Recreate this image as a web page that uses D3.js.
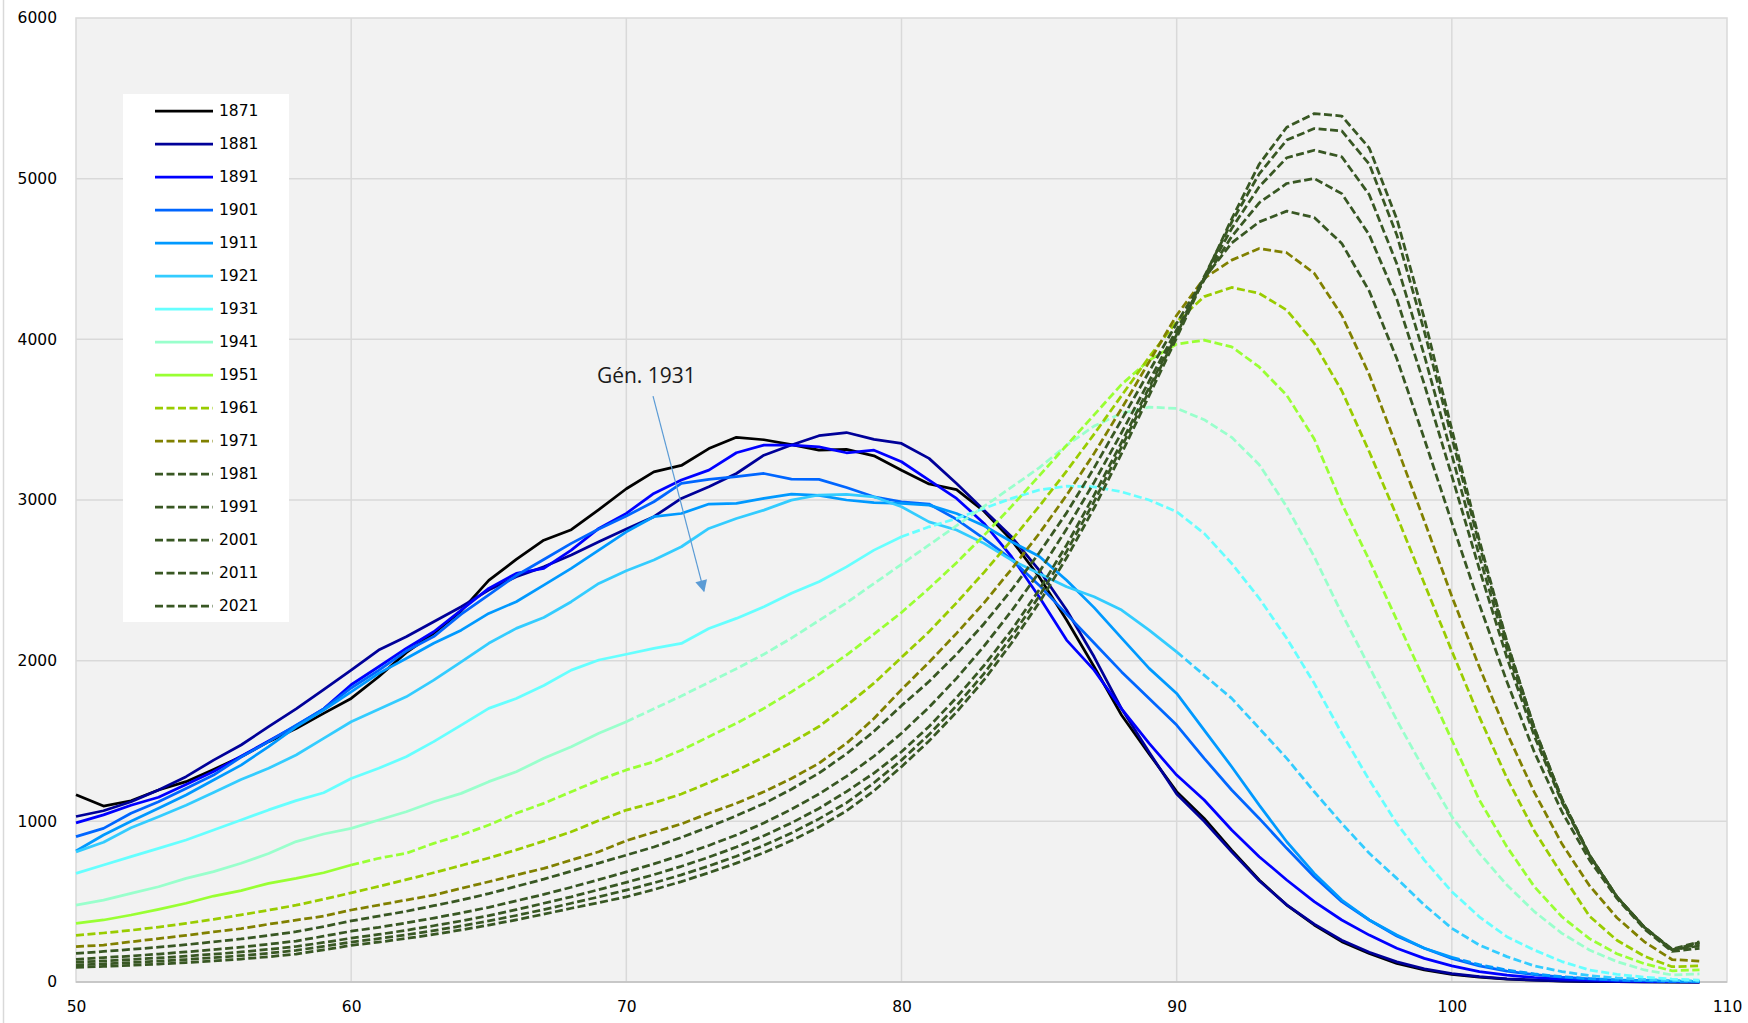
<!DOCTYPE html>
<html>
<head>
<meta charset="utf-8">
<script src="https://cdn.jsdelivr.net/npm/d3@7/dist/d3.min.js"></script>
<style>
  body { margin: 0; background: #ffffff; }
  text { font-family: "DejaVu Sans", Verdana, sans-serif; }
</style>
</head>
<body>
<svg width="1748" height="1023"></svg>
<script>
// ages on the x axis (50 .. 109)
var ages = d3.range(50, 110);
var generations = [1871, 1881, 1891, 1901, 1911, 1921, 1931, 1941, 1951, 1961, 1971, 1981, 1991, 2001, 2011, 2021];
// last observed year : after it the curves are projections (dashed)
var lastObserved = 2011;

var xTicks = [50, 60, 70, 80, 90, 100, 110];
var yTicks = [0, 1000, 2000, 3000, 4000, 5000, 6000];

var g1871 = [1165,1095,1128,1195,1247,1323,1402,1496,1578,1672,1765,1900,2050,2170,2310,2500,2630,2750,2815,2940,3070,3175,3215,3320,3390,3375,3345,3310,3315,3275,3185,3100,3065,2930,2750,2522,2253,1962,1660,1420,1185,1018,821,635,479,355,251,178,116,75,48,30,18,11,6,3,2,1,0,0];
var g1881 = [1030,1066,1122,1195,1278,1381,1475,1589,1700,1820,1941,2066,2149,2242,2336,2439,2522,2584,2657,2740,2820,2896,3010,3082,3165,3279,3342,3400,3420,3377,3352,3259,3103,2937,2771,2564,2315,2024,1700,1430,1170,1000,810,630,480,360,260,185,125,82,52,33,20,12,7,4,2,1,1,0];
var g1891 = [990,1040,1100,1150,1230,1310,1405,1500,1595,1700,1850,1962,2076,2180,2315,2450,2543,2574,2688,2823,2917,3041,3124,3186,3294,3342,3342,3331,3294,3310,3238,3124,3010,2854,2647,2398,2128,1941,1700,1485,1288,1133,946,780,635,500,386,292,210,147,100,64,43,28,18,11,7,4,2,1];
var g1901 = [905,956,1050,1122,1205,1288,1400,1496,1599,1700,1830,1940,2060,2150,2290,2410,2530,2630,2730,2820,2900,2989,3103,3128,3145,3165,3130,3128,3078,3020,2989,2975,2880,2760,2630,2470,2290,2110,1930,1765,1599,1392,1195,1018,832,655,500,386,286,210,147,100,68,46,30,20,12,8,5,3];
var g1911 = [815,915,1000,1081,1164,1257,1350,1465,1588,1692,1806,1921,2014,2108,2190,2294,2367,2470,2574,2688,2802,2896,2916,2975,2979,3010,3037,3029,3000,2983,2979,2968,2916,2840,2740,2650,2500,2330,2140,1952,1796,1568,1340,1101,873,676,510,386,293,210,153,108,75,50,33,21,13,8,5,3];
var g1921 = [810,870,960,1029,1100,1180,1260,1330,1413,1516,1620,1697,1775,1879,1993,2108,2201,2269,2367,2481,2560,2626,2709,2823,2885,2937,2999,3031,3035,3020,2958,2864,2813,2730,2626,2543,2460,2398,2315,2190,2055,1910,1765,1579,1392,1184,987,801,645,479,334,230,158,100,65,40,25,16,10,6];
var g1931 = [676,728,780,832,884,946,1008,1071,1129,1178,1267,1330,1402,1496,1599,1703,1765,1845,1941,2004,2040,2076,2107,2200,2263,2336,2419,2491,2584,2688,2771,2833,2885,2948,3010,3062,3086,3082,3051,3000,2927,2792,2605,2388,2139,1859,1548,1257,987,759,562,406,282,199,127,75,48,30,18,12];
var g1941 = [479,510,552,593,645,687,739,800,874,921,956,1008,1060,1122,1174,1247,1309,1392,1464,1548,1620,1700,1780,1865,1950,2040,2140,2250,2360,2480,2600,2720,2840,2960,3080,3200,3340,3460,3540,3578,3570,3500,3390,3220,2958,2647,2294,1962,1630,1319,1029,801,604,438,303,199,127,75,44,50];
var g1951 = [365,386,417,452,490,535,569,614,645,680,728,770,801,863,915,977,1050,1112,1184,1257,1320,1371,1443,1527,1610,1703,1806,1915,2035,2165,2300,2450,2610,2780,2960,3150,3340,3530,3720,3870,3970,3995,3953,3828,3652,3380,2978,2626,2253,1879,1506,1133,842,593,406,270,176,114,70,76];
var g1961 = [290,305,322,342,365,390,418,447,478,515,555,595,637,680,725,772,822,877,935,1005,1070,1115,1170,1240,1315,1400,1490,1590,1720,1860,2020,2180,2360,2550,2750,2960,3180,3410,3650,3890,4110,4266,4323,4286,4182,3975,3680,3300,2900,2480,2060,1650,1270,940,670,410,260,160,95,100];
var g1971 = [220,230,250,270,290,312,332,360,385,410,448,479,510,541,583,624,666,707,759,811,880,932,984,1050,1112,1184,1267,1361,1485,1640,1820,1990,2170,2360,2570,2790,3030,3290,3570,3860,4150,4380,4493,4565,4539,4411,4150,3780,3330,2870,2400,1960,1550,1180,860,600,400,250,140,130];
var g1981 = [178,190,203,217,232,250,268,290,313,345,380,410,440,475,510,550,595,640,690,740,790,840,900,965,1035,1110,1200,1300,1420,1560,1720,1870,2040,2230,2440,2670,2920,3200,3500,3800,4100,4380,4600,4731,4798,4758,4597,4300,3880,3380,2860,2350,1870,1430,1060,760,520,330,190,210];
var g1991 = [141,152,162,174,187,201,217,235,255,285,316,340,368,398,430,465,505,545,590,637,685,735,790,850,915,990,1075,1170,1280,1405,1548,1710,1890,2090,2310,2550,2820,3110,3420,3740,4060,4370,4640,4850,4970,5001,4907,4650,4250,3720,3150,2570,2020,1530,1120,790,530,340,200,225];
var g2001 = [123,131,140,150,161,173,187,203,221,246,273,296,322,350,380,413,450,490,530,575,620,668,720,777,840,910,990,1080,1185,1300,1433,1590,1770,1970,2190,2440,2720,3030,3360,3700,4040,4380,4690,4950,5130,5177,5136,4900,4470,3900,3280,2650,2070,1560,1130,790,530,340,200,235];
var g2011 = [106,113,121,130,140,151,164,179,197,222,248,270,294,320,349,380,414,451,490,530,572,617,667,722,783,850,927,1015,1115,1240,1381,1540,1720,1920,2150,2400,2680,2990,3330,3680,4030,4390,4730,5030,5240,5312,5297,5090,4650,4050,3390,2720,2110,1580,1140,790,530,340,200,245];
var g2021 = [91,97,104,112,121,131,143,157,174,200,228,248,271,296,324,354,387,422,459,494,530,575,625,680,740,805,880,965,1065,1190,1340,1500,1680,1880,2110,2360,2640,2950,3290,3650,4010,4380,4750,5090,5320,5405,5390,5190,4750,4130,3440,2750,2120,1580,1140,790,530,340,205,250];

var seriesValues = [g1871, g1881, g1891, g1901, g1911, g1921, g1931, g1941, g1951, g1961, g1971, g1981, g1991, g2001, g2011, g2021];

// style
var colors = ["#000000", "#000099", "#0000ff", "#0066ff", "#0099ff", "#33ccff", "#66ffff", "#99ffcc",
              "#99ff33", "#99cc00", "#808000", "#385723", "#385723", "#385723", "#385723", "#385723"];
var dash = "8,3.5";

var svg = d3.select("svg"),
    plotLeft = 76, plotRight = 1727, plotTop = 18, plotBottom = 982;

var x = d3.scaleLinear().domain([50, 110]).range([plotLeft, plotRight]);
var y = d3.scaleLinear().domain([0, 6000]).range([plotBottom, plotTop]);

// chart border (left edge only visible)
svg.append("line")
  .attr("x1", 3.5).attr("x2", 3.5).attr("y1", 0).attr("y2", 1023)
  .attr("stroke", "#d9d9d9").attr("stroke-width", 1.5);

// plot area
svg.append("rect")
  .attr("x", plotLeft).attr("y", plotTop)
  .attr("width", plotRight - plotLeft).attr("height", plotBottom - plotTop)
  .attr("fill", "#f2f2f2")
  .attr("stroke", "#d9d9d9").attr("stroke-width", 1.5);

// grid
svg.append("g").selectAll("line")
  .data(xTicks.slice(1, -1))
  .enter().append("line")
  .attr("x1", function(d) { return x(d); }).attr("x2", function(d) { return x(d); })
  .attr("y1", plotTop).attr("y2", plotBottom)
  .attr("stroke", "#d9d9d9").attr("stroke-width", 1.5);

svg.append("g").selectAll("line")
  .data(yTicks.slice(1, -1))
  .enter().append("line")
  .attr("x1", plotLeft).attr("x2", plotRight)
  .attr("y1", function(d) { return y(d); }).attr("y2", function(d) { return y(d); })
  .attr("stroke", "#d9d9d9").attr("stroke-width", 1.5);

// axis line
svg.append("line")
  .attr("x1", plotLeft).attr("x2", plotRight).attr("y1", plotBottom).attr("y2", plotBottom)
  .attr("stroke", "#bfbfbf").attr("stroke-width", 1.5);

// axes labels
var yAxis = svg.append("g")
  .attr("transform", "translate(" + plotLeft + ",0)")
  .call(d3.axisLeft(y).tickValues(yTicks).tickFormat(d3.format("d")).tickSize(0).tickPadding(19));
var xAxis = svg.append("g")
  .attr("transform", "translate(0," + plotBottom + ")")
  .call(d3.axisBottom(x).tickValues(xTicks).tickFormat(d3.format("d")).tickSize(0).tickPadding(19));

[yAxis, xAxis].forEach(function(a) {
  a.select(".domain").remove();
  a.selectAll("text")
    .attr("fill", "#000")
    .style("font-family", "'DejaVu Sans', Verdana, sans-serif")
    .style("font-size", "15.5px");
});

// curves
var line = d3.line()
  .x(function(d) { return x(d.age); })
  .y(function(d) { return y(d.v); });

var curves = svg.append("g");

generations.forEach(function(gen, i) {
  var pts = ages.map(function(a, k) { return { age: a, v: seriesValues[i][k] }; });
  var cut = lastObserved - gen;   // age reached in the last observed year
  var solid = pts.filter(function(d) { return d.age <= cut; });
  var dashed = pts.filter(function(d) { return d.age >= cut; });

  if (solid.length > 1) {
    curves.append("path")
      .attr("d", line(solid))
      .attr("fill", "none")
      .attr("stroke", colors[i])
      .attr("stroke-width", 2.75)
      .attr("stroke-linejoin", "round");
  }
  if (dashed.length > 1) {
    curves.append("path")
      .attr("d", line(dashed))
      .attr("fill", "none")
      .attr("stroke", colors[i])
      .attr("stroke-width", 2.75)
      .attr("stroke-linejoin", "round")
      .attr("stroke-dasharray", dash);
  }
});

// legend
var legend = svg.append("g");
legend.append("rect")
  .attr("x", 123).attr("y", 94)
  .attr("width", 166).attr("height", 528)
  .attr("fill", "#ffffff");

var item = legend.selectAll(".item")
  .data(generations)
  .enter().append("g")
  .attr("class", "item")
  .attr("transform", function(d, i) { return "translate(155," + (111 + i * 33) + ")"; });

item.append("line")
  .attr("x1", 0).attr("x2", 58)
  .attr("stroke", function(d, i) { return colors[i]; })
  .attr("stroke-width", 2.75)
  .attr("stroke-dasharray", function(d) { return d + 50 >= lastObserved ? dash : null; });

item.append("text")
  .attr("x", 64)
  .attr("dy", "0.35em")
  .style("font-size", "15.5px")
  .text(function(d) { return d; });

// annotation
var defs = svg.append("defs");
defs.append("marker")
  .attr("id", "arrow")
  .attr("viewBox", "0 0 10 10")
  .attr("refX", 9).attr("refY", 5)
  .attr("markerWidth", 13).attr("markerHeight", 12)
  .attr("markerUnits", "userSpaceOnUse")
  .attr("orient", "auto")
  .append("path")
  .attr("d", "M0,0 L10,5 L0,10 z")
  .attr("fill", "#5b9bd5");

svg.append("line")
  .attr("x1", x(70.97)).attr("y1", y(3646))
  .attr("x2", x(72.82)).attr("y2", y(2433))
  .attr("stroke", "#5b9bd5").attr("stroke-width", 1.2)
  .attr("marker-end", "url(#arrow)");

svg.append("text")
  .attr("x", x(68.93)).attr("y", y(3727))
  .style("font-family", "'Open Sans', sans-serif")
  .style("font-size", "21px")
  .attr("fill", "#1a1a1a")
  .text("Gén. 1931");
</script>
</body>
</html>
